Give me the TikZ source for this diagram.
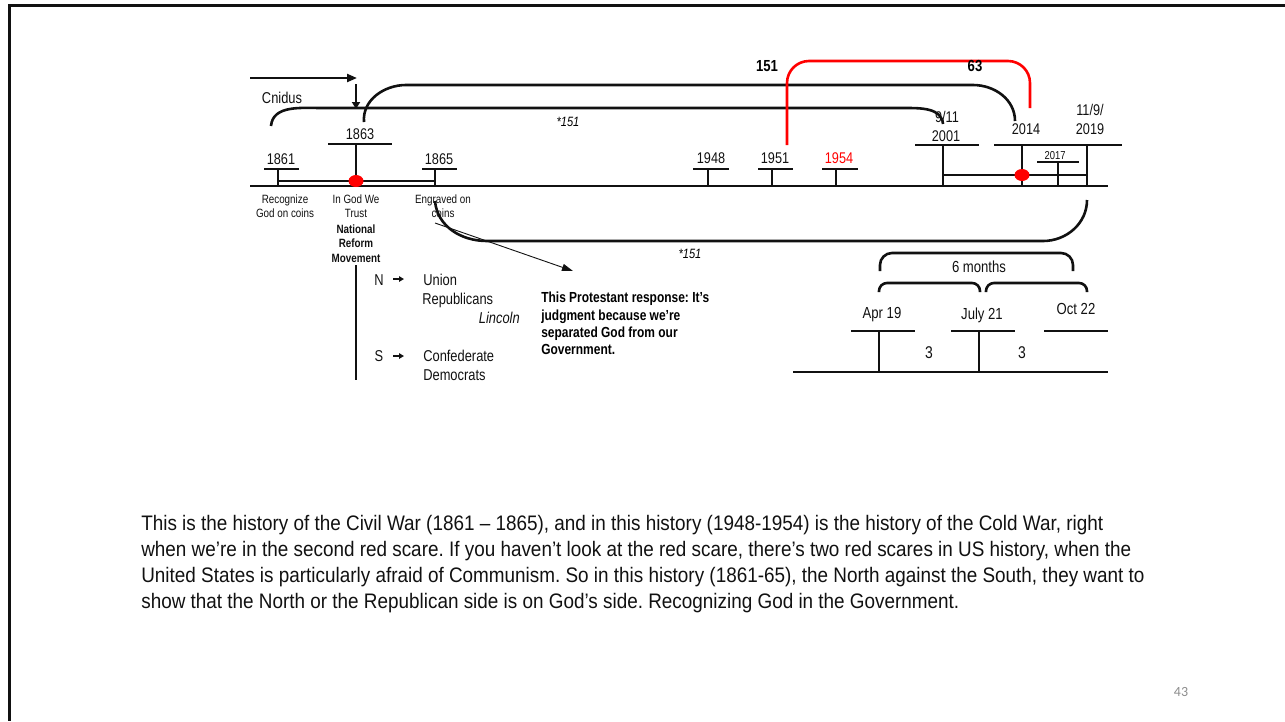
\documentclass[tikz,border=0pt]{standalone}
\usepackage{fontspec}
\setmainfont[FakeStretch=0.82]{Liberation Sans}
\newfontfamily\bodyfont[FakeStretch=0.9]{Liberation Sans}
\newfontfamily\pagefont{Carlito}
\usetikzlibrary{arrows.meta}
\definecolor{cred}{HTML}{FF0000}
\definecolor{cgrey}{HTML}{8C8C8C}
\definecolor{cink}{HTML}{111111}
\newcommand{\fsz}[2]{\fontsize{#1}{#2}\selectfont}
% one year mark: x, top, bar from, bar to
\newcommand{\yrtick}[4]{\draw (#1,186) -- (#1,#2) (#3,#2) -- (#4,#2);}
\frenchspacing
\tikzset{
  every picture/.style={line width=2.6pt, draw=cink},
  yr/.style={font=\fsz{15.5}{18}, inner sep=0pt, text=cink},
  lab/.style={font=\fsz{12}{14.5}, inner sep=0pt, align=center, text=cink},
  labb/.style={lab, font=\fsz{12}{14.5}\bfseries},
  side/.style={font=\fsz{15.7}{19}, inner sep=0pt, text=cink},
  big/.style={font=\fsz{16}{19}, inner sep=0pt, text=cink},
  body/.style={font=\bodyfont\fsz{21}{26}, inner sep=0pt, anchor=base west, text=cink},
  brace/.style={line width=2.6pt},
  dot/.style={fill=cred, draw=none},
  arrow/.style={-{Triangle[length=10pt, width=8pt]}, line width=2.2pt},
}

\begin{document}
\begin{tikzpicture}[x=1pt, y=-1pt]
  \useasboundingbox (0,0) rectangle (1285,721);
  % frame
  \draw[line width=3pt] (8,5) -- (1285,5);
  \draw[line width=3pt] (9,5) -- (9,721);

  % main time line
  \draw (250,186) -- (1108,186);
  \draw (278,181) -- (435,181);
  \yrtick{278}{169}{264}{299}
  \yrtick{356}{144}{328}{392}
  \yrtick{435}{169}{422}{457}
  \yrtick{708}{169}{693}{729}
  \yrtick{772}{169}{758}{793}
  \yrtick{836}{169}{822}{858}
  \yrtick{943}{145}{915}{979}
  \draw (994,145) -- (1122,145);
  \draw (1022,186) -- (1022,145) (1087,186) -- (1087,145);
  \yrtick{1058}{162}{1037}{1079}
  \draw (943,175) -- (1087,175);
  \fill[dot] (356,181) ellipse [x radius=7.5, y radius=6];
  \fill[dot] (1022,175) ellipse [x radius=7.5, y radius=6];

  % years
  \node[yr] (y1861) at (281,159) {1861};
  \node[yr] (y1863) at (360,134) {1863};
  \node[yr] (y1865) at (439,159) {1865};
  \node[yr] (y1948) at (711,158) {1948};
  \node[yr] (y1951) at (775,158) {1951};
  \node[yr, text=cred] (y1954) at (839,158) {1954};
  \node[yr] (y911) at (947,117) {9/11};
  \node[yr] (y2001) at (946,136) {2001};
  \node[yr] (y2014) at (1026,129) {2014};
  \node[yr] (y119) at (1090,110) {11/9/};
  \node[yr] (y2019) at (1090,129) {2019};
  \node[lab, font=\fsz{11.5}{13}] (y2017) at (1055,156) {2017};

  % under the line
  \node[lab, anchor=north] (recog) at (285,193) {Recognize\\God on coins};
  \node[lab, anchor=north] (trust) at (356,193) {In God We\\Trust};
  \node[labb, anchor=north] (nrm) at (356,223) {National\\Reform\\Movement};
  \node[lab, anchor=north] (engr) at (443,193) {Engraved on\\coins};

  % top arrows and brackets
  \node[side] (cnidus) at (282,98) {Cnidus};
  \draw[arrow] (250,78) -- (357,78);
  \draw[-{Triangle[length=7pt, width=8pt]}, line width=2.2pt] (356,84) -- (356,109);
  \draw[brace] (271,126) to[out=85,in=180] (322,108) -- (905,108) to[out=0,in=95] (943,124);
  \draw[brace] (364,122) to[out=95,in=180] (406,85) -- (973,85) to[out=0,in=90] (1015,121);
  \draw[brace, draw=cred, rounded corners=22pt] (787,145) |- (950,61) -| (1030,108);
  \node[font=\fsz{16}{19}\bfseries, inner sep=0pt] (n151) at (767,66) {151};
  \node[font=\fsz{16}{19}\bfseries, inner sep=0pt] (n63) at (975,66) {63};
  \node[font=\fsz{13.5}{16}\itshape, inner sep=0pt] (s151a) at (568,122) {*151};

  % lower bracket
  \draw[brace] (435,201) to[out=-85,in=180] (487,241) -- (1043,241) to[out=0,in=-90] (1087,200);
  \node[font=\fsz{13.5}{16}\itshape, inner sep=0pt] (s151b) at (690,254) {*151};
  \coordinate (from) at (435,223);
  \coordinate (to) at (573,271);
  \draw[line width=0.9pt, -{Triangle[length=11pt, width=7pt]}] (from) -- (to);
  \node[anchor=north west, inner sep=0pt, align=left, font=\fsz{14.6}{17.3}\bfseries] (resp) at (540,291)
    {This Protestant response: It's\\judgment because we're\\separated God from our\\Government.};

  % north and south
  \draw (356,265) -- (356,380);
  \node[side] (north) at (379,280) {N};
  \node[side, anchor=west] (union) at (422,280) {Union};
  \node[side, anchor=west] (repub) at (421,300) {Republicans};
  \node[side, anchor=east, font=\fsz{15.7}{19}\itshape] (linc) at (521,318) {Lincoln};
  \node[side] (south) at (379,356) {S};
  \node[side, anchor=west] (conf) at (422,356) {Confederate};
  \node[side, anchor=west] (dem) at (422,375) {Democrats};
  \draw[line width=1.6pt, -{Triangle[length=5pt, width=5.5pt]}] (393,279) -- (404,279);
  \draw[line width=1.6pt, -{Triangle[length=5pt, width=5.5pt]}] (393,356) -- (404,356);

  % six months
  \draw[brace, rounded corners=12pt] (880,271) |- (976,253) -| (1073,271);
  \draw[brace, rounded corners=8pt] (879,292) |- (930,283) -| (980,292);
  \draw[brace, rounded corners=8pt] (986,292) |- (1036,283) -| (1087,292);
  \node[big] (six) at (979,267) {6 months};
  \node[big] (apr) at (882,315) {Apr 19};
  \node[big] (jul) at (982,315) {July 21};
  \node[big] (oct) at (1076,309) {Oct 22};
  \draw (851,331) -- (915,331) (951,331) -- (1015,331) (1044,331) -- (1108,331);
  \draw (879,331) -- (879,372) (979,331) -- (979,372);
  \draw (793,372) -- (1108,372);
  \node[big, font=\fsz{17}{19}] (three1) at (929,353) {3};
  \node[big, font=\fsz{17}{19}] (three2) at (1022,353) {3};

  % text
  \node[body] (body1) at (140,530) {This is the history of the Civil War (1861 – 1865), and in this history (1948-1954) is the history of the Cold War, right};
  \node[body] (body2) at (140,556) {when we’re in the second red scare. If you haven’t look at the red scare, there’s two red scares in US history, when the};
  \node[body] (body3) at (140,582) {United States is particularly afraid of Communism. So in this history (1861-65), the North against the South, they want to};
  \node[body] (body4) at (140,608) {show that the North or the Republican side is on God’s side. Recognizing God in the Government.};
  \node[inner sep=0pt, text=cgrey, font=\pagefont\fsz{14}{16}] (page) at (1181,692) {43};
\end{tikzpicture}
\end{document}
